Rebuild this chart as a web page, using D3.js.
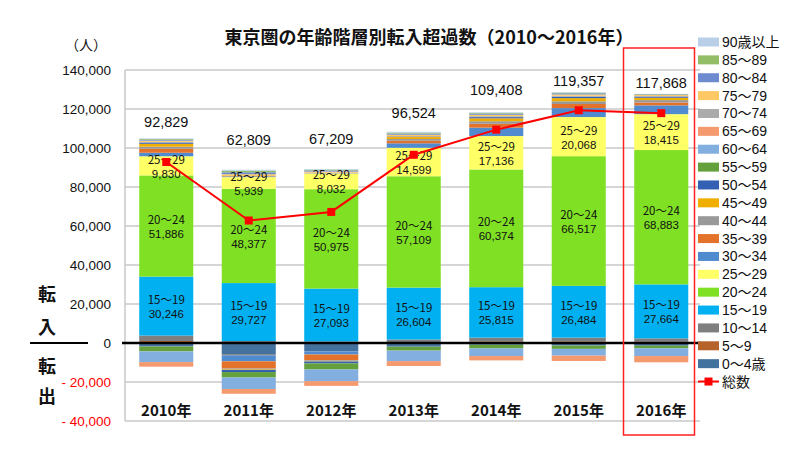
<!DOCTYPE html>
<html><head><meta charset="utf-8">
<script src="https://cdn.jsdelivr.net/npm/d3@7/dist/d3.min.js"></script>
<style>
body{margin:0;background:#fff;}
svg{font-family:"Liberation Sans","Noto Sans CJK JP",sans-serif;}
.jp{font-family:"Noto Sans CJK JP","Liberation Sans",sans-serif;}
.lg{font-family:"Liberation Sans","Noto Sans CJK JP",sans-serif;}
</style></head>
<body><svg id="c" width="810" height="460"></svg>
<script>
// ---------- data ----------
const years = ["2010年","2011年","2012年","2013年","2014年","2015年","2016年"];
const ageKeys = ["0～4歳","5～9","10～14","15～19","20～24","25～29","30～34","35～39","40～44","45～49","50～54","55～59","60～64","65～69","70～74","75～79","80～84","85～89","90歳以上"];
const age0_4   = [-1800,-6000,-4300,-1600,-900,-1300,-1400];
const age5_9   = [1000,-300,0,0,800,800,600];
const age10_14 = [2800,1000,800,1800,2000,2000,1800];
const age15_19 = [30246,29727,27093,26604,25815,26484,27664];
const age20_24 = [51886,48377,50975,57109,60374,66517,68883];
const age25_29 = [9830,5939,8032,14599,17136,20068,18415];
const age30_34 = [1800,-3100,-1600,2300,4300,4600,4500];
const age35_39 = [2100,-3700,-2900,1300,2000,2100,1500];
const age40_44 = [1000,-400,-391,900,1300,1400,1200];
const age45_49 = [1500,-300,-300,1000,1500,1600,1200];
const age50_54 = [600,-1100,-1000,-300,600,700,500];
const age55_59 = [-2500,-2800,-3100,-2000,-1900,-1700,-1300];
const age60_64 = [-5500,-5900,-6000,-5400,-3900,-3500,-4000];
const age65_69 = [-2333,-2434,-2400,-2488,-2217,-2712,-3194];
const age70_74 = [400,600,400,500,500,500,400];
const age75_79 = [600,900,600,700,700,700,500];
const age80_84 = [500,1000,600,600,600,600,300];
const age85_89 = [400,800,400,500,400,300,200];
const age90    = [300,500,300,400,300,200,100];
const totals   = [92829,62809,67209,96524,109408,119357,117868];
const yTicks   = [-40000,-20000,0,20000,40000,60000,80000,100000,120000,140000];
const labeledKeys = ["15～19","20～24","25～29"];
const totalName = "総数";

// ---------- layout / style ----------
const ageSeries = [age0_4,age5_9,age10_14,age15_19,age20_24,age25_29,age30_34,age35_39,age40_44,age45_49,age50_54,age55_59,age60_64,age65_69,age70_74,age75_79,age80_84,age85_89,age90];
const colors = ["#44729f","#b5632a","#7f7f7f","#00b0f0","#80e024","#ffff66","#508bd0","#e3722a","#999999","#f0ae00","#3360b2","#64a03c","#82aee0","#f59a6f","#ababab","#fec865","#6d8bce","#94bd68","#b9cfe8"];
const labelLift = [16,30,30,19,22,11,11];

const svg = d3.select("#c");
const x = d3.scaleBand().domain(years).range([125,702.5]).paddingInner(0.345).paddingOuter(0.1725);
const y = d3.scaleLinear().domain([-40000,140000]).range([421,70]);

const table = years.map((yr,i)=>{const o={year:yr}; ageKeys.forEach((k,j)=>o[k]=ageSeries[j][i]); return o;});
const stacked = d3.stack().keys(ageKeys).offset(d3.stackOffsetDiverging)(table);

// gridlines
svg.append("g").selectAll("line").data(yTicks.filter(v=>v!==0)).join("line")
  .attr("x1",125).attr("x2",700).attr("y1",d=>y(d)).attr("y2",d=>y(d))
  .attr("stroke","#c8c8c8").attr("stroke-width",1.5);
svg.append("line").attr("x1",125).attr("x2",125).attr("y1",y(140000)).attr("y2",y(-40000))
  .attr("stroke","#c8c8c8").attr("stroke-width",1.5);

// y axis labels
const ax = svg.append("g").attr("transform","translate(111,0)")
  .call(d3.axisLeft(y).tickValues(yTicks).tickSize(0).tickPadding(0)
    .tickFormat(d=> d<0 ? "- "+d3.format(",")(-d) : d3.format(",")(d)));
ax.select(".domain").remove();
ax.selectAll("text").attr("font-size",13.5).attr("font-family","Liberation Sans")
  .attr("fill",d=>d<0?"#ff0000":"#111");

// bars
const gBars = svg.append("g");
stacked.forEach((s,j)=>{
  gBars.append("g").attr("fill",colors[j]).selectAll("rect").data(s).join("rect")
    .attr("x",d=>x(d.data.year)).attr("width",x.bandwidth())
    .attr("y",d=>y(Math.max(d[0],d[1]))).attr("height",d=>Math.abs(y(d[0])-y(d[1])));
});

// segment labels
labeledKeys.forEach(k=>{
  const s = stacked[ageKeys.indexOf(k)];
  s.forEach(d=>{
    const cx = x(d.data.year)+x.bandwidth()/2, cy=(y(d[0])+y(d[1]))/2;
    const t = svg.append("text").attr("text-anchor","middle").attr("font-size",11.5).attr("fill","#111");
    t.append("tspan").attr("class","jp").attr("x",cx).attr("y",cy-2).text(k);
    t.append("tspan").attr("x",cx).attr("y",cy+12).text(d3.format(",")(d.data[k]));
  });
});

// zero line
svg.append("line").attr("x1",122).attr("x2",700).attr("y1",y(0)).attr("y2",y(0)).attr("stroke","#000").attr("stroke-width",2.5);

// total labels
totals.forEach((v,i)=>{
  const top = d3.min(stacked, s=>y(Math.max(s[i][0],s[i][1])));
  svg.append("text").attr("x",x(years[i])+x.bandwidth()/2).attr("y",top-labelLift[i]+5)
    .attr("text-anchor","middle").attr("font-size",14.5).attr("fill","#111").text(d3.format(",")(v));
});

// total line
const line = d3.line().x((d,i)=>x(years[i])+x.bandwidth()/2).y(d=>y(d));
svg.append("path").datum(totals).attr("d",line).attr("fill","none").attr("stroke","#ff0000").attr("stroke-width",2);
svg.append("g").selectAll("rect").data(totals).join("rect")
  .attr("x",(d,i)=>x(years[i])+x.bandwidth()/2-4).attr("y",d=>y(d)-4).attr("width",8).attr("height",8).attr("fill","#ff0000");

// x labels
svg.append("g").selectAll("text").data(years).join("text").attr("class","jp")
  .attr("x",d=>x(d)+x.bandwidth()/2).attr("y",416).attr("text-anchor","middle")
  .attr("font-size",15).attr("font-weight","bold").attr("fill","#111").text(d=>d);

// highlight rectangle for 2016
svg.append("rect").attr("x",623.5).attr("y",48).attr("width",71).attr("height",387)
  .attr("fill","none").attr("stroke","#ff2020").attr("stroke-width",1.5);

// title
svg.append("text").attr("class","jp").attr("x",429).attr("y",44).attr("text-anchor","middle")
  .attr("font-size",18).attr("font-weight","bold").attr("fill","#111").text("東京圏の年齢階層別転入超過数（2010～2016年）");
svg.append("text").attr("class","jp").attr("x",86).attr("y",50).attr("text-anchor","middle")
  .attr("font-size",14).attr("fill","#111").text("（人）");

// 転入 / 転出
[["転",301],["入",334],["転",373],["出",403]].forEach(([c,yy])=>{
  svg.append("text").attr("class","jp").attr("x",47).attr("y",yy).attr("text-anchor","middle")
    .attr("font-size",18).attr("font-weight","bold").attr("fill","#111").text(c);
});
svg.append("line").attr("x1",30).attr("x2",88).attr("y1",343).attr("y2",343).attr("stroke","#000").attr("stroke-width",2);

// legend
const legItems = ageKeys.map((k,j)=>({k,c:colors[j]})).reverse();
const lg = svg.append("g").attr("transform","translate(698,42)");
legItems.forEach((d,i)=>{
  const gy = i*17.87;
  lg.append("rect").attr("x",0).attr("y",gy-4.5).attr("width",21).attr("height",9).attr("fill",d.c);
  lg.append("text").attr("class","lg").attr("x",24).attr("y",gy+5).attr("font-size",14).attr("fill","#111").text(d.k);
});
const ly = legItems.length*17.87;
lg.append("line").attr("x1",0).attr("x2",21).attr("y1",ly).attr("y2",ly).attr("stroke","#ff0000").attr("stroke-width",2);
lg.append("rect").attr("x",6.5).attr("y",ly-4).attr("width",8).attr("height",8).attr("fill","#ff0000");
lg.append("text").attr("class","lg").attr("x",24).attr("y",ly+5).attr("font-size",14).attr("fill","#111").text(totalName);
</script></body></html>
